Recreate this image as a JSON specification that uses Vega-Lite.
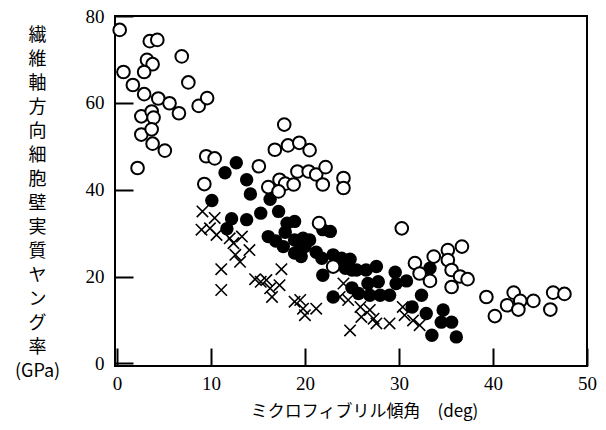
{
  "$schema": "https://vega.github.io/schema/vega-lite/v6.json",
  "autosize": "none",
  "width": 472,
  "height": 350,
  "padding": {"left": 115, "top": 16, "right": 19, "bottom": 64},
  "background": "white",
  "data": {
    "values": [
      {"series": "open", "angle": 0.3, "modulus": 76.8},
      {"series": "open", "angle": 3.5, "modulus": 74.2},
      {"series": "open", "angle": 4.3, "modulus": 74.5},
      {"series": "open", "angle": 6.9, "modulus": 70.7},
      {"series": "open", "angle": 3.2, "modulus": 69.9},
      {"series": "open", "angle": 3.8, "modulus": 68.9},
      {"series": "open", "angle": 0.7, "modulus": 67.1},
      {"series": "open", "angle": 2.9, "modulus": 67.1},
      {"series": "open", "angle": 7.6, "modulus": 64.7},
      {"series": "open", "angle": 1.7, "modulus": 64.1},
      {"series": "open", "angle": 2.9, "modulus": 62.0},
      {"series": "open", "angle": 4.4, "modulus": 61.0},
      {"series": "open", "angle": 5.6, "modulus": 59.9},
      {"series": "open", "angle": 6.6, "modulus": 57.6},
      {"series": "open", "angle": 8.7, "modulus": 59.3},
      {"series": "open", "angle": 9.6, "modulus": 61.1},
      {"series": "open", "angle": 2.6, "modulus": 56.9},
      {"series": "open", "angle": 3.7, "modulus": 58.0},
      {"series": "open", "angle": 3.9, "modulus": 56.6},
      {"series": "open", "angle": 2.6, "modulus": 52.7},
      {"series": "open", "angle": 3.7, "modulus": 53.9},
      {"series": "open", "angle": 3.8, "modulus": 50.6},
      {"series": "open", "angle": 5.1, "modulus": 49.0},
      {"series": "open", "angle": 2.2, "modulus": 45.0},
      {"series": "open", "angle": 9.5, "modulus": 47.7},
      {"series": "open", "angle": 10.4, "modulus": 47.2},
      {"series": "open", "angle": 9.3, "modulus": 41.3},
      {"series": "open", "angle": 17.8, "modulus": 55.0},
      {"series": "open", "angle": 16.8, "modulus": 49.2},
      {"series": "open", "angle": 18.2, "modulus": 50.2},
      {"series": "open", "angle": 19.4, "modulus": 50.8},
      {"series": "open", "angle": 20.5, "modulus": 49.1},
      {"series": "open", "angle": 15.1, "modulus": 45.4},
      {"series": "open", "angle": 16.1, "modulus": 40.6},
      {"series": "open", "angle": 17.3, "modulus": 42.3},
      {"series": "open", "angle": 17.9, "modulus": 41.4},
      {"series": "open", "angle": 17.2, "modulus": 39.6},
      {"series": "open", "angle": 18.8, "modulus": 41.2},
      {"series": "open", "angle": 19.2, "modulus": 44.2},
      {"series": "open", "angle": 20.4, "modulus": 44.2},
      {"series": "open", "angle": 21.2, "modulus": 43.5},
      {"series": "open", "angle": 22.2, "modulus": 45.2},
      {"series": "open", "angle": 21.9, "modulus": 41.2},
      {"series": "open", "angle": 24.1, "modulus": 42.7},
      {"series": "open", "angle": 24.1, "modulus": 40.4},
      {"series": "open", "angle": 21.5, "modulus": 32.3},
      {"series": "open", "angle": 23.0, "modulus": 22.3},
      {"series": "open", "angle": 30.3, "modulus": 31.1},
      {"series": "open", "angle": 31.7, "modulus": 23.1},
      {"series": "open", "angle": 32.2, "modulus": 20.7},
      {"series": "open", "angle": 33.3, "modulus": 19.0},
      {"series": "open", "angle": 33.7, "modulus": 24.6},
      {"series": "open", "angle": 35.2, "modulus": 26.1},
      {"series": "open", "angle": 36.7, "modulus": 26.9},
      {"series": "open", "angle": 35.2, "modulus": 23.8},
      {"series": "open", "angle": 35.6, "modulus": 21.5},
      {"series": "open", "angle": 36.5, "modulus": 20.0},
      {"series": "open", "angle": 37.3, "modulus": 19.4},
      {"series": "open", "angle": 35.6, "modulus": 17.6},
      {"series": "open", "angle": 39.3, "modulus": 15.3},
      {"series": "open", "angle": 40.2, "modulus": 10.9},
      {"series": "open", "angle": 41.5, "modulus": 13.4},
      {"series": "open", "angle": 42.2, "modulus": 16.3},
      {"series": "open", "angle": 42.9, "modulus": 14.4},
      {"series": "open", "angle": 42.7, "modulus": 12.4},
      {"series": "open", "angle": 44.3, "modulus": 14.4},
      {"series": "open", "angle": 46.4, "modulus": 16.3},
      {"series": "open", "angle": 46.1, "modulus": 12.4},
      {"series": "open", "angle": 47.6, "modulus": 16.0},

      {"series": "filled", "angle": 10.1, "modulus": 37.5},
      {"series": "filled", "angle": 12.7, "modulus": 46.2},
      {"series": "filled", "angle": 11.5, "modulus": 43.9},
      {"series": "filled", "angle": 13.8, "modulus": 42.3},
      {"series": "filled", "angle": 14.2, "modulus": 39.0},
      {"series": "filled", "angle": 16.3, "modulus": 37.8},
      {"series": "filled", "angle": 12.2, "modulus": 33.3},
      {"series": "filled", "angle": 13.8, "modulus": 33.1},
      {"series": "filled", "angle": 15.3, "modulus": 34.6},
      {"series": "filled", "angle": 17.2, "modulus": 35.0},
      {"series": "filled", "angle": 11.7, "modulus": 31.0},
      {"series": "filled", "angle": 18.1, "modulus": 32.3},
      {"series": "filled", "angle": 18.9, "modulus": 32.7},
      {"series": "filled", "angle": 16.1, "modulus": 29.2},
      {"series": "filled", "angle": 16.9, "modulus": 28.2},
      {"series": "filled", "angle": 17.9, "modulus": 30.2},
      {"series": "filled", "angle": 18.9, "modulus": 28.4},
      {"series": "filled", "angle": 19.8, "modulus": 28.8},
      {"series": "filled", "angle": 20.5, "modulus": 28.4},
      {"series": "filled", "angle": 19.5, "modulus": 26.5},
      {"series": "filled", "angle": 17.7, "modulus": 26.9},
      {"series": "filled", "angle": 18.9, "modulus": 25.4},
      {"series": "filled", "angle": 19.6, "modulus": 24.6},
      {"series": "filled", "angle": 20.0, "modulus": 26.9},
      {"series": "filled", "angle": 21.9, "modulus": 30.8},
      {"series": "filled", "angle": 22.7, "modulus": 30.4},
      {"series": "filled", "angle": 21.2, "modulus": 25.6},
      {"series": "filled", "angle": 21.8, "modulus": 24.2},
      {"series": "filled", "angle": 21.9, "modulus": 20.3},
      {"series": "filled", "angle": 23.0, "modulus": 25.0},
      {"series": "filled", "angle": 23.9, "modulus": 24.2},
      {"series": "filled", "angle": 24.8, "modulus": 24.0},
      {"series": "filled", "angle": 25.0, "modulus": 21.5},
      {"series": "filled", "angle": 24.3, "modulus": 21.9},
      {"series": "filled", "angle": 25.5, "modulus": 21.5},
      {"series": "filled", "angle": 26.5, "modulus": 21.5},
      {"series": "filled", "angle": 27.6, "modulus": 22.3},
      {"series": "filled", "angle": 26.7, "modulus": 18.4},
      {"series": "filled", "angle": 27.8, "modulus": 18.8},
      {"series": "filled", "angle": 28.0, "modulus": 15.7},
      {"series": "filled", "angle": 26.9, "modulus": 15.7},
      {"series": "filled", "angle": 25.7, "modulus": 16.1},
      {"series": "filled", "angle": 25.0, "modulus": 17.4},
      {"series": "filled", "angle": 23.0, "modulus": 15.3},
      {"series": "filled", "angle": 29.6, "modulus": 21.0},
      {"series": "filled", "angle": 29.7, "modulus": 18.4},
      {"series": "filled", "angle": 30.8, "modulus": 19.0},
      {"series": "filled", "angle": 29.0, "modulus": 15.7},
      {"series": "filled", "angle": 33.3, "modulus": 21.9},
      {"series": "filled", "angle": 32.4, "modulus": 15.7},
      {"series": "filled", "angle": 31.4, "modulus": 13.0},
      {"series": "filled", "angle": 32.9, "modulus": 11.5},
      {"series": "filled", "angle": 34.7, "modulus": 12.3},
      {"series": "filled", "angle": 34.5, "modulus": 9.5},
      {"series": "filled", "angle": 35.6, "modulus": 9.5},
      {"series": "filled", "angle": 33.5, "modulus": 6.5},
      {"series": "filled", "angle": 36.1, "modulus": 6.1},

      {"series": "cross", "angle": 9.1, "modulus": 35.0},
      {"series": "cross", "angle": 10.4, "modulus": 33.5},
      {"series": "cross", "angle": 9.0, "modulus": 30.8},
      {"series": "cross", "angle": 9.9, "modulus": 31.1},
      {"series": "cross", "angle": 10.6, "modulus": 29.6},
      {"series": "cross", "angle": 12.0, "modulus": 28.8},
      {"series": "cross", "angle": 13.3, "modulus": 29.2},
      {"series": "cross", "angle": 12.4, "modulus": 27.7},
      {"series": "cross", "angle": 14.1, "modulus": 26.1},
      {"series": "cross", "angle": 12.6, "modulus": 25.0},
      {"series": "cross", "angle": 13.1, "modulus": 23.4},
      {"series": "cross", "angle": 11.1, "modulus": 21.7},
      {"series": "cross", "angle": 11.1, "modulus": 16.9},
      {"series": "cross", "angle": 14.7, "modulus": 19.4},
      {"series": "cross", "angle": 15.3, "modulus": 18.8},
      {"series": "cross", "angle": 15.9, "modulus": 19.2},
      {"series": "cross", "angle": 16.3, "modulus": 17.3},
      {"series": "cross", "angle": 16.5, "modulus": 15.3},
      {"series": "cross", "angle": 17.5, "modulus": 21.7},
      {"series": "cross", "angle": 17.3, "modulus": 18.0},
      {"series": "cross", "angle": 18.9, "modulus": 14.2},
      {"series": "cross", "angle": 19.5, "modulus": 14.6},
      {"series": "cross", "angle": 19.8, "modulus": 12.6},
      {"series": "cross", "angle": 20.0, "modulus": 11.1},
      {"series": "cross", "angle": 21.2, "modulus": 12.6},
      {"series": "cross", "angle": 24.1, "modulus": 18.4},
      {"series": "cross", "angle": 23.7, "modulus": 15.3},
      {"series": "cross", "angle": 24.6, "modulus": 14.6},
      {"series": "cross", "angle": 25.9, "modulus": 13.0},
      {"series": "cross", "angle": 26.9, "modulus": 12.3},
      {"series": "cross", "angle": 26.0, "modulus": 10.7},
      {"series": "cross", "angle": 27.3, "modulus": 10.3},
      {"series": "cross", "angle": 27.6, "modulus": 9.2},
      {"series": "cross", "angle": 29.0, "modulus": 9.2},
      {"series": "cross", "angle": 24.8, "modulus": 7.6},
      {"series": "cross", "angle": 30.4, "modulus": 13.0},
      {"series": "cross", "angle": 30.6, "modulus": 11.1},
      {"series": "cross", "angle": 31.5, "modulus": 9.9},
      {"series": "cross", "angle": 32.2, "modulus": 8.8}
    ]
  },
  "encoding": {
    "x": {
      "field": "angle",
      "type": "quantitative",
      "scale": {"domain": [-0.2, 50], "nice": false, "zero": false},
      "axis": {
        "title": "ミクロフィブリル傾角　(deg)",
        "values": [0, 10, 20, 30, 40, 50],
        "grid": false,
        "domain": false,
        "ticks": true,
        "tickSize": -18,
        "tickWidth": 2,
        "tickColor": "black",
        "labelPadding": 26,
        "labelFont": "Liberation Serif",
        "labelFontSize": 19,
        "labelColor": "black",
        "labelFlush": false,
        "titleX": 249,
        "titleY": 45,
        "titleAlign": "center",
        "titleBaseline": "middle",
        "titleFont": "Noto Sans CJK JP",
        "titleFontSize": 17,
        "titleFontWeight": "normal",
        "titleColor": "black"
      }
    },
    "y": {
      "field": "modulus",
      "type": "quantitative",
      "scale": {"domain": [-0.6, 80], "nice": false, "zero": false},
      "axis": {
        "title": ["繊", "維", "軸", "方", "向", "細", "胞", "壁", "実", "質", "ヤ", "ン", "グ", "率", "(GPa)"],
        "values": [0, 20, 40, 60, 80],
        "grid": false,
        "domain": false,
        "ticks": true,
        "tickSize": -18,
        "tickWidth": 2,
        "tickColor": "black",
        "labelPadding": 29,
        "labelFont": "Liberation Serif",
        "labelFontSize": 19,
        "labelColor": "black",
        "labelFlush": false,
        "titleAngle": 0,
        "titleX": -78,
        "titleY": 10,
        "titleAlign": "center",
        "titleBaseline": "top",
        "titleFont": "Noto Sans CJK JP",
        "titleFontSize": 18,
        "titleLineHeight": 24,
        "titleFontWeight": "normal",
        "titleColor": "black"
      }
    }
  },
  "layer": [
    {
      "transform": [{"filter": "datum.series === 'filled'"}],
      "mark": {"type": "circle", "color": "black", "opacity": 1, "size": 180}
    },
    {
      "transform": [{"filter": "datum.series === 'cross'"}],
      "mark": {
        "type": "point",
        "shape": "M-1,-1L1,1M-1,1L1,-1",
        "filled": false,
        "stroke": "black",
        "strokeWidth": 1.6,
        "opacity": 1,
        "size": 130
      }
    },
    {
      "transform": [{"filter": "datum.series === 'open'"}],
      "mark": {
        "type": "point",
        "shape": "circle",
        "filled": true,
        "fill": "white",
        "stroke": "black",
        "strokeWidth": 2,
        "opacity": 1,
        "size": 160
      }
    }
  ],
  "config": {
    "view": {"stroke": "black", "strokeWidth": 2}
  }
}
